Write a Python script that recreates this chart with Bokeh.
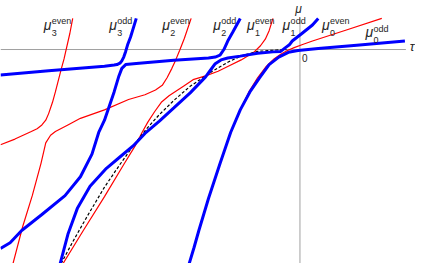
from bokeh.plotting import figure
from bokeh.models import Range1d, Label
from bokeh.embed import file_html
from bokeh.resources import INLINE

# ---- data ----
# odd branches (blue)
odd3_tau = [-31.1, -26.1, -20.3, -19.3, -19.0, -18.7, -18.5, -18.3, -18.1, -17.9, -17.6, -17.3, -17.0]
odd3_mu = [-2.7, -2.25, -1.77, -1.65, -1.6, -1.45, -1.2, -0.8, -0.2, 0.5, 1.3, 2.3, 3.3]

odd2_tau = [-31.1, -30.1, -28.9, -26.8, -24.4, -22.8, -21.6, -20.9, -20.3, -19.3, -18.8, -18.5, -18.1,
            -17.0, -13.1, -9.5, -8.8, -8.3, -7.9, -7.5, -7.0, -6.2]
odd2_mu = [-21.1, -20.5, -19.2, -17.5, -15.5, -13.5, -11.1, -8.8, -7.5, -4.5, -2.8, -2.0, -1.6,
           -1.48, -1.15, -0.9, -0.8, -0.6, 0.0, 0.9, 1.8, 3.3]

odd1_tau = [-24.9, -24.1, -23.1, -21.8, -20.1, -18.7, -17.3, -16.1, -14.6, -13.1, -11.4, -9.8, -9.3,
            -8.8, -8.2, -7.5, -6.2, -4.4, -2.8, -2.0, -1.5, -1.1, -0.8, -0.3, 0.2, 1.3, 1.9]
odd1_mu = [-22.7, -19.6, -16.8, -14.5, -12.6, -11.4, -10.2, -8.9, -7.6, -6.2, -4.6, -2.9, -2.2,
           -1.5, -1.1, -0.9, -0.7, -0.4, -0.25, -0.2, 0.2, 0.5, 0.9, 1.3, 1.7, 2.6, 3.3]

odd0_tau = [-11.5, -11.0, -10.5, -10.0, -9.5, -8.3, -7.2, -6.2, -5.2, -4.2, -3.2, -2.2, -1.2, -0.2,
            1.9, 5.9, 10.9]
odd0_mu = [-22.7, -21.0, -19.2, -17.5, -15.8, -12.1, -8.8, -6.4, -4.5, -3.0, -1.6, -0.8, -0.3, -0.1,
           0.1, 0.45, 0.9]

# even branches (red)
even3_tau = [-31.1, -29.6, -27.9, -27.3, -26.8, -26.4, -26.1, -25.7, -25.4, -25.1, -24.8, -24.5, -24.3,
             -23.9, -23.6]
even3_mu = [-10.1, -9.5, -8.7, -8.4, -8.0, -7.5, -6.8, -5.6, -4.5, -3.3, -2.1, -1.0, -0.1, 1.7, 3.3]

even2_tau = [-29.8, -28.8, -27.8, -26.9, -26.4, -25.9, -25.4, -24.1, -22.8, -20.3, -17.8, -16.1, -15.0,
             -14.3, -13.8, -13.3, -12.9, -12.5, -12.0, -11.3]
even2_mu = [-22.7, -18.8, -15.5, -12.1, -9.9, -9.1, -8.7, -8.0, -7.3, -6.4, -5.3, -4.8, -4.3,
            -3.8, -3.0, -2.0, -1.1, -0.1, 1.2, 3.3]

even1_tau = [-24.6, -22.5, -20.3, -18.3, -17.1, -16.4, -15.8, -15.1, -14.4, -13.6, -12.1, -11.1, -9.8,
             -8.5, -7.5, -6.1, -5.3, -4.8, -4.1, -3.6, -3.2, -2.8]
even1_mu = [-22.7, -19.2, -15.6, -12.2, -10.2, -8.8, -7.7, -6.6, -5.6, -4.9, -3.9, -3.2, -2.8,
            -2.3, -1.8, -1.1, -0.6, -0.3, 0.4, 1.1, 2.0, 3.3]

even0_tau = [-11.5, -10.5, -9.5, -8.3, -7.2, -6.2, -5.3, -4.4, -3.5, -2.7, -2.0, -1.3, -0.6, 0.2,
             1.3, 4.9, 8.5]
even0_mu = [-22.7, -19.2, -15.8, -12.1, -8.8, -6.4, -4.5, -3.0, -1.8, -1.0, -0.5, -0.1, 0.2, 0.5,
            0.9, 2.1, 3.3]

# dashed reference curve
dash_tau = [-24.8, -23.6, -22.1, -20.3, -18.7, -17.3, -16.0, -14.6, -13.1, -11.4, -9.8, -9.1, -7.4,
            -5.9, -4.4, -2.4, -1.4]
dash_mu = [-22.7, -20.4, -17.7, -14.6, -12.2, -10.2, -8.5, -6.9, -5.4, -3.9, -2.8, -2.3, -1.3,
           -0.6, -0.2, -0.05, -0.02]

# axis extents
tau_axis = [-31.1, 11.0]
mu_axis = [-22.7, 3.3]

# curve labels: (index, parity, tau of label, mu of baseline)
labels = [("3", "even", -26.6, 1.8), ("3", "odd", -19.8, 1.8), ("2", "even", -14.3, 1.8),
          ("2", "odd", -9.0, 1.8), ("1", "even", -5.5, 1.8), ("1", "odd", -1.8, 1.8),
          ("0", "even", 2.3, 1.8), ("0", "odd", 6.8, 1.0)]

# ---- figure ----
p = figure(width=415, height=263, output_backend="svg", toolbar_location=None,
           x_range=Range1d(-31.1, 12.0), y_range=Range1d(-22.7, 5.2),
           x_axis_location=None, y_axis_location=None, min_border=0)
p.grid.visible = False
p.outline_line_color = None
p.background_fill_color = "white"
p.border_fill_color = "white"

AX = "#a0a0a0"
p.line(tau_axis, [0, 0], line_color=AX, line_width=1)
p.line([0, 0], mu_axis, line_color=AX, line_width=1)

RED = "#ff0000"
for t, m in [(even3_tau, even3_mu), (even2_tau, even2_mu), (even1_tau, even1_mu), (even0_tau, even0_mu)]:
    p.line(t, m, line_color=RED, line_width=1.2)

p.line(dash_tau, dash_mu, line_color="black", line_width=1.2, line_dash="3 2")

BLUE = "#0000ff"
for t, m in [(odd3_tau, odd3_mu), (odd2_tau, odd2_mu), (odd1_tau, odd1_mu), (odd0_tau, odd0_mu)]:
    p.line(t, m, line_color=BLUE, line_width=3)

TXT = "#262626"
FONT = "Liberation Sans"

for idx, par, x, y in labels:
    p.add_layout(Label(x=x, y=y, text="μ", text_font=FONT, text_font_size="14px",
                       text_font_style="italic", text_color=TXT))
    p.add_layout(Label(x=x, y=y, x_offset=8, y_offset=6.5, text=par, text_font=FONT,
                       text_font_size="9px", text_color=TXT))
    p.add_layout(Label(x=x, y=y, x_offset=8, y_offset=-3, text=idx, text_font=FONT,
                       text_font_size="9px", text_color=TXT))

p.add_layout(Label(x=-0.5, y=3.55, text="μ", text_font=FONT, text_font_size="12px",
                   text_font_style="italic", text_color=TXT))
p.add_layout(Label(x=0.2, y=-1.3, text="0", text_font=FONT, text_font_size="10px", text_color=TXT))
p.add_layout(Label(x=11.4, y=-0.5, text="τ", text_font=FONT, text_font_size="13px",
                   text_font_style="italic", text_color=TXT))

open("out.html", "w").write(file_html(p, INLINE))
